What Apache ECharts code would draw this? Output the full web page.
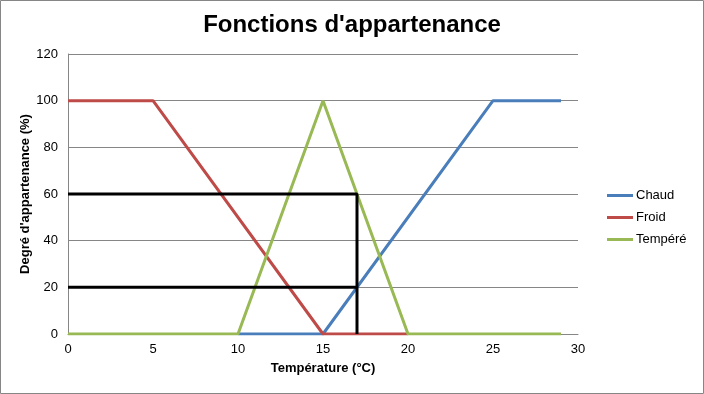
<!DOCTYPE html>
<html><head><meta charset="utf-8">
<script src="https://cdn.jsdelivr.net/npm/echarts@6/dist/echarts.min.js"></script>
<style>html,body{margin:0;padding:0;background:#fff}#c{width:704px;height:394px}</style>
</head><body><div id="c"></div>
<script>
var titleText = "Fonctions d'appartenance";
var xName = "Température (°C)";
var yName = "Degré d'appartenance (%)";
var chaud = [[10,0],[15,0],[25,100],[29,100]];
var froid = [[0,100],[5,100],[15,0],[20,0]];
var tempere = [[0,0],[10,0],[15,100],[20,0],[29,0]];
var guide60 = [[0,60],[17,60],[17,0]];
var guide20 = [[0,20],[17,20]];
var FONT = "'Liberation Sans', Arial, sans-serif";
var chart = echarts.init(document.getElementById('c'), null, {renderer:'canvas'});
function line(name, data, color){
  return {name:name, type:'line', data:data, symbol:'none', lineStyle:{color:color,width:3}, itemStyle:{color:color}, animation:false};
}
chart.setOption({
  animation:false,
  textStyle:{fontFamily:FONT},
  graphic:[{type:'rect', shape:{x:0.5,y:0.5,width:703,height:393}, style:{fill:null, stroke:'#868686', lineWidth:1}, z:-10}],
  title:{text:titleText, left:'center', top:8, textStyle:{fontFamily:FONT, fontSize:24, fontWeight:'bold', color:'#000'}},
  grid:{left:68, top:54, width:510, height:280},
  legend:{orient:'vertical', left:602, top:184, itemWidth:26, itemHeight:3, icon:'rect', itemGap:9,
    data:['Chaud','Froid','Tempéré'], textStyle:{fontFamily:FONT, fontSize:13, color:'#000', padding:[0,0,0,-2]}},
  xAxis:{type:'value', min:0, max:30, interval:5, name:xName, nameLocation:'middle', nameGap:28,
    nameTextStyle:{fontFamily:FONT, fontSize:13, fontWeight:'bold', color:'#000'},
    axisLine:{lineStyle:{color:'#868686'}}, axisTick:{show:false}, splitLine:{show:false},
    axisLabel:{fontFamily:FONT, fontSize:13, color:'#000', margin:9}},
  yAxis:{type:'value', min:0, max:120, interval:20, name:yName, nameLocation:'middle', nameGap:36,
    nameMoveOverlap:false,
    nameTextStyle:{fontFamily:FONT, fontSize:13, fontWeight:'bold', color:'#000'},
    axisLine:{show:true, lineStyle:{color:'#868686'}}, axisTick:{show:false},
    splitLine:{lineStyle:{color:'#868686'}},
    axisLabel:{fontFamily:FONT, fontSize:13, color:'#000', margin:10}},
  series:[
    line('Chaud', chaud, '#4A7EBB'),
    line('Froid', froid, '#BE4B48'),
    line('Tempéré', tempere, '#98B954'),
    line('g60', guide60, '#000000'),
    line('g20', guide20, '#000000')
  ]
});
</script></body></html>
